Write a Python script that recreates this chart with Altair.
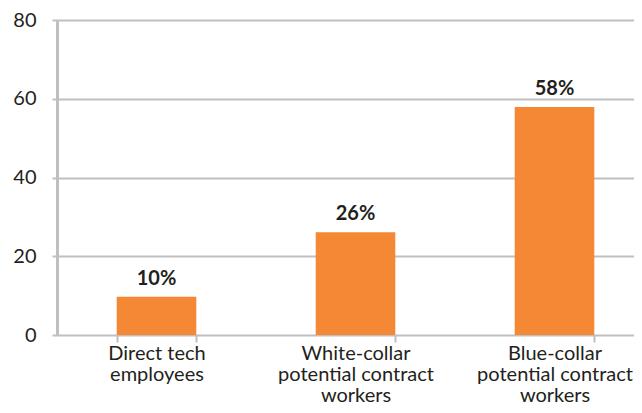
import altair as alt
import pandas as pd

categories = ["Direct tech\nemployees", "White-collar\npotential contract\nworkers", "Blue-collar\npotential contract\nworkers"]
values = [9.7, 26.1, 57.9]
value_labels = ["10%", "26%", "58%"]
y_ticks = [0, 20, 40, 60, 80]

df = pd.DataFrame({"cat": categories, "val": values, "lab": value_labels})

FONT = "Lato"
GRID = "#BFBFBF"
ORANGE = "#F58835"
TEXT = "#231F20"

x = alt.X("cat:N", sort=categories, title=None,
          scale=alt.Scale(range=[0, 597], paddingInner=0.6, paddingOuter=0.3),
          axis=alt.Axis(labelAngle=0, tickBand="extent", domain=False, ticks=True,
                        tickSize=7, tickColor=GRID, tickWidth=2,
                        labelExpr="split(datum.label, '\\n')",
                        labelFont=FONT, labelFontSize=20, labelColor=TEXT,
                        labelLineHeight=21, labelPadding=1, labelBaseline="top"))

bars = alt.Chart(df).mark_bar(color=ORANGE).encode(
    x=x,
    y=alt.Y("val:Q", title=None,
            scale=alt.Scale(domain=[0, 80]),
            axis=alt.Axis(values=y_ticks, grid=True, gridColor=GRID, gridWidth=2,
                          domainColor=GRID, domainWidth=3, tickColor=GRID, tickWidth=2,
                          tickSize=5, labelFont=FONT, labelFontSize=20, labelColor=TEXT,
                          labelPadding=16))
)

text = alt.Chart(df).mark_text(font=FONT, fontWeight="bold", fontSize=20, color=TEXT,
                               baseline="alphabetic", dy=-12).encode(
    x=alt.X("cat:N", sort=categories),
    y="val:Q",
    text="lab:N",
)

chart = (bars + text).properties(
    width=577, height=315,
    autosize=alt.AutoSizeParams(type="none"),
    padding={"left": 49, "top": 12, "right": 0, "bottom": 70},
).configure_view(stroke=None)

chart.save("out.html", embed_options={"renderer": "svg", "actions": False})
